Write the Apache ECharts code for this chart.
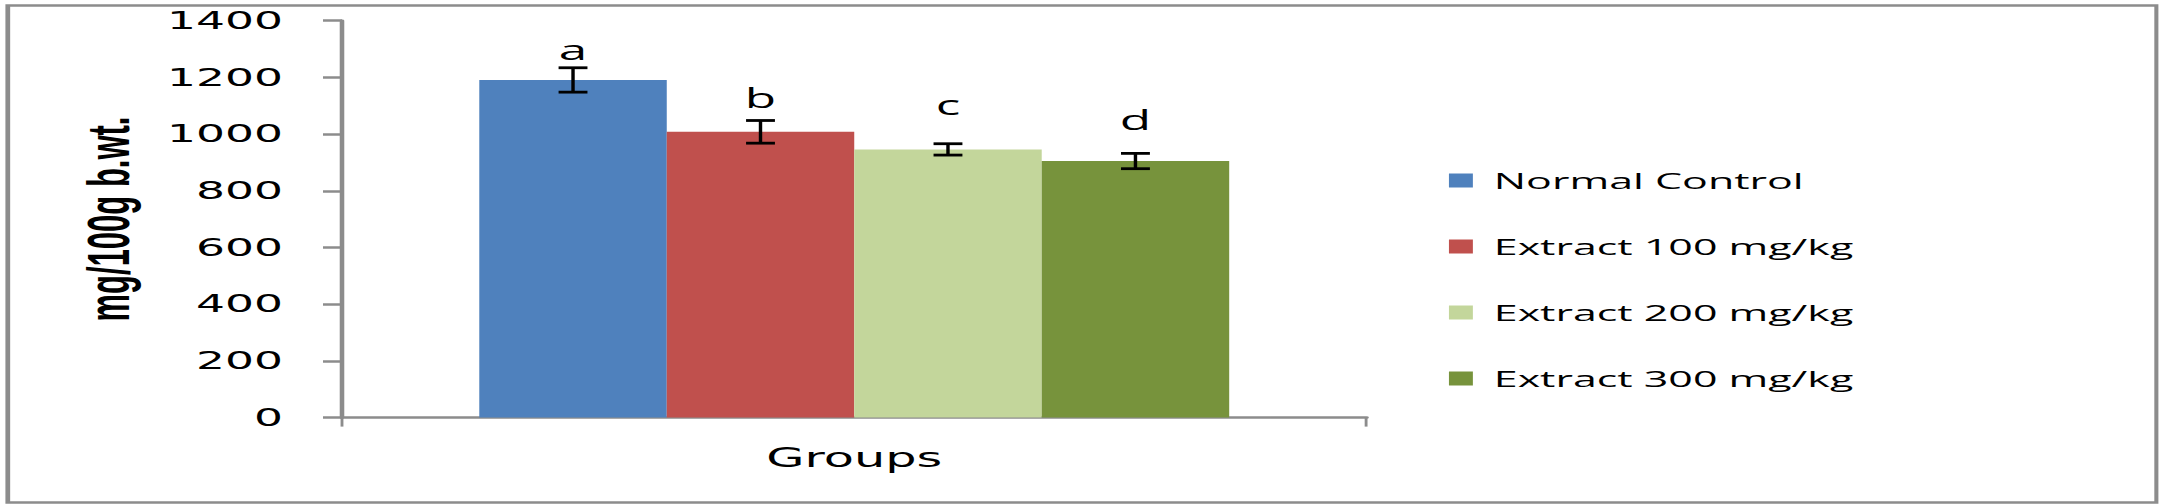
<!DOCTYPE html>
<html>
<head>
<meta charset="utf-8">
<script src="https://cdn.jsdelivr.net/npm/echarts@6/dist/echarts.min.js"></script>
<style>
  html, body { margin: 0; padding: 0; background: #fff; overflow: hidden; }
  /* the source picture is stretched sideways, so the chart is drawn narrow and widened */
  #chart { width: 1136.3px; height: 504px; transform: scaleX(1.9); transform-origin: 0 0; }
</style>
</head>
<body>
<div id="chart"></div>
<script>
const categories = ['Groups'];
const groupNames = ['Normal Control', 'Extract 100 mg/kg', 'Extract 200 mg/kg', 'Extract 300 mg/kg'];
const means = [1191, 1008, 946, 905];
const errors = [43, 40, 20, 27];
const letters = ['a', 'b', 'c', 'd'];
const letterAt = [1250, 1083, 1057, 1004];
const yTicks = [0, 200, 400, 600, 800, 1000, 1200, 1400];

const colors = ['#4F81BD', '#C0504D', '#C3D69B', '#77933C'];
const gapPct = 26.8;

function drawErrorBar(params, api) {
  const idx = api.value(3);
  const mean = api.value(1);
  const err = api.value(2);
  const center = api.coord([0, mean]);
  const band = api.size([1, 0])[0];
  const total = band * (1 - gapPct / 100);
  const bw = total / groupNames.length;
  const cx = center[0] - total / 2 + (idx + 0.5) * bw;
  const top = api.coord([0, mean + err])[1];
  const bot = api.coord([0, mean - err])[1];
  const ly = api.coord([0, api.value(4)])[1];
  const half = 7.6;
  return {
    type: 'group',
    children: [
      { type: 'rect', shape: { x: cx - 0.9, y: top, width: 1.8, height: bot - top }, style: { fill: '#000' } },
      { type: 'rect', shape: { x: cx - half, y: top - 1.4, width: half * 2, height: 2.8 }, style: { fill: '#000' } },
      { type: 'rect', shape: { x: cx - half, y: bot - 1.4, width: half * 2, height: 2.8 }, style: { fill: '#000' } },
      {
        type: 'text', x: cx, y: ly,
        style: {
          text: letters[idx], fill: '#000', fontFamily: 'Open Sans', fontSize: 27,
          align: 'center', verticalAlign: 'bottom'
        }
      }
    ]
  };
}

const chart = echarts.init(document.getElementById('chart'), null, { renderer: 'svg' });

const barSeries = groupNames.map(function (name, i) {
  return {
    name: name,
    type: 'bar',
    data: [means[i]],
    barGap: 0,
    barCategoryGap: gapPct + '%',
    itemStyle: { color: colors[i] },
    silent: true
  };
});

chart.setOption({
  animation: false,
  backgroundColor: '#fff',
  grid: { left: 180, right: 416.8, top: 20.7, bottom: 86.4 },
  legend: {
    data: groupNames,
    orient: 'vertical',
    left: 762.6,
    top: 169,
    padding: 0,
    itemWidth: 12.6,
    itemHeight: 14,
    itemGap: 43,
    icon: 'rect',
    textStyle: { fontFamily: 'Open Sans', fontSize: 22.6, lineHeight: 22, color: '#000', padding: [0, 0, 0, 6] }
  },
  xAxis: {
    type: 'category',
    data: categories,
    axisLine: { lineStyle: { color: '#8c8c8c', width: 2.5 } },
    axisTick: { show: true, length: 9, lineStyle: { color: '#8c8c8c', width: 1.5 } },
    axisLabel: { fontFamily: 'DejaVu Sans', fontSize: 26, color: '#000', margin: 27 }
  },
  yAxis: {
    type: 'value',
    min: yTicks[0],
    max: yTicks[yTicks.length - 1],
    interval: yTicks[1] - yTicks[0],
    axisLine: { show: true, lineStyle: { color: '#8c8c8c', width: 2.4 } },
    axisTick: { show: true, length: 10, lineStyle: { color: '#8c8c8c', width: 2.5 } },
    axisLabel: {
      fontFamily: 'DejaVu Sans', fontSize: 24, color: '#000', margin: 31,
      formatter: function (v) { return String(v); }
    },
    splitLine: { show: false }
  },
  graphic: [
    {
      type: 'rect', left: 1.6, top: 3, silent: true,
      shape: { width: 1131, height: 497 },
      style: { fill: 'none', stroke: '#8c8c8c', lineWidth: 2.5 }
    },
    {
      type: 'text', x: 57, y: 219, rotation: Math.PI / 2,
      style: {
        text: 'mg/100g b.wt.', fill: '#000', fontFamily: 'Liberation Sans', fontWeight: 'bold',
        fontSize: 31, align: 'center', verticalAlign: 'middle'
      }
    }
  ],
  series: barSeries.concat([{
    type: 'custom',
    name: 'errors',
    renderItem: drawErrorBar,
    encode: { x: 0, y: 1 },
    data: means.map(function (m, i) { return [0, m, errors[i], i, letterAt[i]]; }),
    z: 10,
    silent: true
  }])
});
</script>
</body>
</html>
